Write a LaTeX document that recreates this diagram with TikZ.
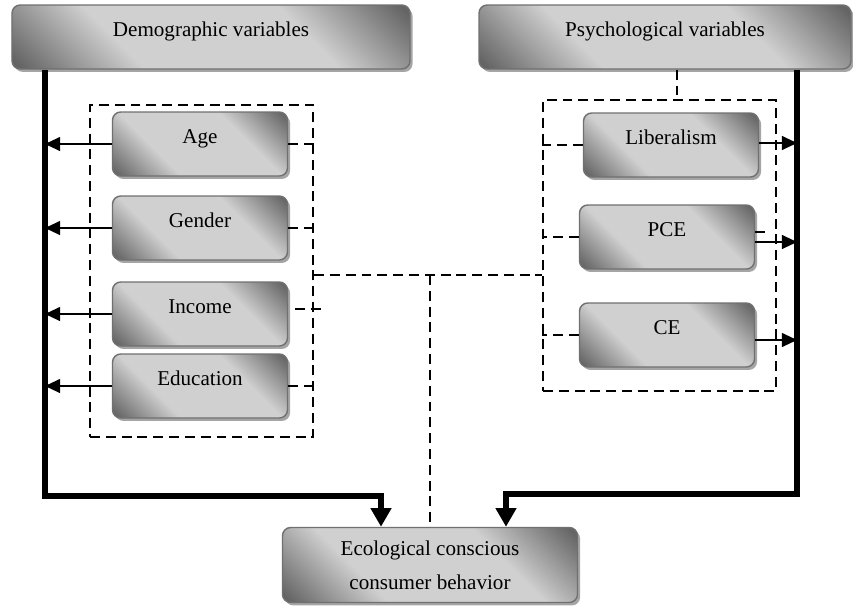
\documentclass[tikz,border=0pt]{standalone}
\usepackage{fontspec}
\setmainfont{Liberation Serif}
\newfontfamily\boxfont{Liberation Serif}
\usetikzlibrary{arrows.meta, positioning, calc, shadows}
\definecolor{boxdark}{RGB}{100,100,100}
\definecolor{boxlight}{RGB}{208,208,208}
\definecolor{boxedge}{RGB}{112,112,112}
\definecolor{shadowgray}{RGB}{165,165,165}
\pgfdeclareverticalshading{boxshade}{100bp}{color(0bp)=(boxdark); color(16bp)=(boxdark);
    color(35bp)=(boxlight); color(65bp)=(boxlight); color(84bp)=(boxdark); color(100bp)=(boxdark)}

\begin{document}
\begin{tikzpicture}[
    x=0.03cm, y=-0.03cm,
    every node/.style={font=\boxfont\fontsize{18}{29}\selectfont},
    var box/.style={draw=boxedge, line width=1.2pt, rounded corners=7pt,
        shading=boxshade, shading angle=-45,
        drop shadow={shadow xshift=2.2pt, shadow yshift=-2.5pt, fill=shadowgray, opacity=1},
        minimum height=1.92cm, inner sep=2pt, text height=12pt, text depth=13pt},
    item box/.style={var box, minimum width=5.25cm},
    dash line/.style={line width=1.8pt, dash pattern=on 8.5pt off 5pt},
    group box/.style={draw, dash line, inner sep=0pt},
    main line/.style={line width=5pt, line join=miter, -{Triangle[length=16pt, width=17pt]}},
    link line/.style={line width=1.2pt, -{Triangle[length=13pt, width=12pt]}}
]
    \useasboundingbox (0,0) rectangle (853,609);

    % dashed groups
    \node[group box, minimum width=6.69cm, minimum height=9.96cm] (lgrp) at (201.5,271) {};
    \node[group box, minimum width=6.99cm, minimum height=8.73cm] (rgrp) at (659.5,245.5) {};

    % variable boxes
    \node[var box, minimum width=11.94cm] (demo) at (211,37) {Demographic variables};
    \node[var box, minimum width=11.16cm] (psy) at (665,37) {Psychological variables};
    \node[item box] (age) at (200,144) {Age};
    \node[item box] (gender) at (200,228) {Gender};
    \node[item box] (income) at (200,314) {Income};
    \node[item box] (educ) at (200,386) {Education};
    \node[item box] (liber) at (671,145) {Liberalism};
    \node[item box] (pce) at (667,237) {PCE};
    \node[item box] (ce) at (667,335) {CE};
    \node[var box, minimum width=8.85cm, minimum height=2.25cm, align=center,
        text height=, text depth=] (eco) at (430,565)
        {Ecological conscious\\consumer behavior};

    \coordinate (lrail) at (45,69);
    \coordinate (rrail) at (797,69);
    \coordinate (lcorner) at (45,496);
    \coordinate (rcorner) at (797,494);
    \coordinate (hub) at (430,275);
    \coordinate (ptap) at ($(psy.south)+(12,0)$);

    % thick rails
    \draw[main line] (demo.south -| lrail) -- (lcorner) -| ($(eco.north)+(-49,0)$);
    \draw[main line] (psy.south -| rrail) -- (rcorner) -| ($(eco.north)+(76,0)$);

    % arrows to the rails
    \foreach \n in {age,gender,income,educ}
        \draw[link line] (\n.west) -- (\n.west -| lrail);
    \draw[link line] ($(liber.east)+(0,-2)$) -- ($(liber.east -| rrail)+(0,-2)$);
    \draw[link line] ($(pce.east)+(0,5)$) -- ($(pce.east -| rrail)+(0,5)$);
    \draw[link line] ($(ce.east)+(0,5)$) -- ($(ce.east -| rrail)+(0,5)$);

    % dashed stubs
    \foreach \n in {age,gender,educ}
        \draw[dash line] (\n.east) -- (\n.east -| lgrp.east);
    \draw[dash line] ($(income.east)+(7,-5)$) -- ($(income.east -| lgrp.east)+(9,-5)$);
    \foreach \n in {liber,pce,ce}
        \draw[dash line] (\n.west) -- (\n.west -| rgrp.west);
    \draw[dash line] ($(pce.east)+(0,-5)$) -- ($(pce.east)+(15,-5)$);

    % dashed links
    \draw[dash line] (ptap) -- (ptap |- rgrp.north);
    \draw[dash line] (lgrp.east |- hub) -- (rgrp.west |- hub);
    \draw[dash line] (hub) -- (eco.north);
\end{tikzpicture}
\end{document}
